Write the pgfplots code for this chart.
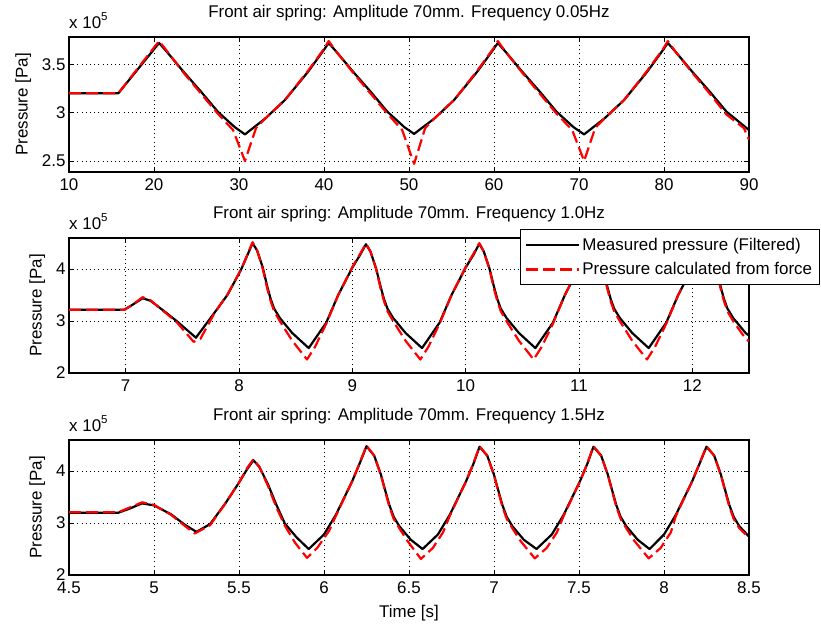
\documentclass[border=0pt]{standalone}
\usepackage{fontspec}
\setmainfont{Liberation Sans}
\usepackage{pgfplots}
\pgfplotsset{compat=1.18}

\newcommand\fs{\fontsize{17}{20}\selectfont}
\newcommand\xscale{x~10\raisebox{7.5bp}{\fontsize{11.5}{12}\selectfont 5}}

\pgfplotsset{
  panel/.style={
    width=680bp, height=135bp, scale only axis, anchor=south west,
    axis line style={line width=1.2bp, black},
    tick align=inside, major tick length=5bp,
    tick style={line width=0.8bp, black},
    grid=major,
    major grid style={black, line width=0.8bp, dash pattern=on 1bp off 3.2bp},
    ticklabel style={font=\fs},
    xticklabel style={yshift=-3bp},
    title style={font=\fs, at={(0.5,1)}, anchor=base, yshift=13.5bp},
    ylabel={Pressure [Pa]}, ylabel style={font=\fs, yshift=4bp},
    xlabel style={font=\fs, yshift=-5bp},
    scaled ticks=false,
    /pgf/number format/assume math mode=true,
    extra description/.code={
      \node[anchor=base west, font=\fs, inner sep=0pt] at (0.0,1.065) {\xscale};
    },
  },
  meas/.style={black, line width=2.2bp, line join=round, no marks},
  calc/.style={red, line width=2.2bp, line join=round, dash pattern=on 12bp off 5bp, no marks},
}

\begin{document}
\begin{tikzpicture}
\path[use as bounding box] (0bp,0bp) rectangle (821bp,626bp);

% ---- 0.05 Hz ----
\begin{axis}[panel, at={(69bp,454bp)},
  xmin=10, xmax=90, ymin=2.386, ymax=3.782,
  xtick={10,20,...,90}, ytick={2.5,3,3.5},
  title={Front air spring: Amplitude 70mm. Frequency 0.05Hz}]
\addplot[meas] coordinates {
(10,3.20)(15.8,3.20)(18.2,3.46)(20.6,3.72)
(21.5,3.63)(23.5,3.42)(25.5,3.22)(27.5,3.01)(29.5,2.85)(30.7,2.775)
(33.1,2.94)(35.4,3.13)(38.1,3.42)(40.0,3.65)(40.55,3.72)
(41.45,3.63)(43.45,3.42)(45.45,3.22)(47.45,3.01)(49.45,2.85)(50.6,2.78)
(53.0,2.94)(55.3,3.13)(58.0,3.42)(59.9,3.65)(60.45,3.72)
(61.35,3.63)(63.35,3.42)(65.35,3.22)(67.35,3.01)(69.35,2.85)(70.6,2.775)
(73.0,2.94)(75.3,3.13)(78.0,3.42)(79.9,3.65)(80.45,3.72)
(81.35,3.63)(83.35,3.42)(85.35,3.22)(87.35,3.01)(90,2.82)
};
\addplot[calc] coordinates {
(10,3.20)(15.8,3.20)(18.2,3.47)(20.6,3.74)
(21.5,3.64)(23.5,3.41)(25.5,3.20)(27.5,2.99)(29.3,2.82)(30.7,2.50)(32.0,2.84)
(33.1,2.94)(35.4,3.13)(38.1,3.43)(40.0,3.66)(40.55,3.74)
(41.45,3.63)(43.45,3.41)(45.45,3.20)(47.45,2.99)(49.2,2.82)(50.6,2.47)(51.9,2.84)
(53.0,2.94)(55.3,3.13)(58.0,3.43)(59.9,3.66)(60.45,3.74)
(61.35,3.63)(63.35,3.41)(65.35,3.20)(67.35,2.99)(69.2,2.82)(70.6,2.50)(71.9,2.84)
(73.0,2.94)(75.3,3.13)(78.0,3.43)(79.9,3.66)(80.45,3.74)
(81.35,3.63)(83.35,3.41)(85.35,3.20)(87.35,2.98)(89.4,2.84)(90,2.72)
};
\end{axis}

% ---- 1.0 Hz ----
\begin{axis}[panel, at={(69bp,253bp)},
  xmin=6.5, xmax=12.5, ymin=2, ymax=4.6,
  xtick={7,8,...,12}, ytick={2,3,4},
  title={Front air spring: Amplitude 70mm. Frequency 1.0Hz},
  legend style={at={(0.663,1.063)}, anchor=north west, draw=black,
    line width=0.8bp, fill=white, font=\fs, inner xsep=5bp, inner ysep=6bp,
    row sep=7bp, cells={anchor=west}},
  legend image code/.code={\draw[#1] (0bp,0bp) -- (53bp,0bp);}]
\addplot[meas] coordinates {
(6.5,3.22)(6.99,3.22)(7.05,3.30)(7.15,3.44)(7.22,3.39)(7.34,3.19)(7.45,3.0)(7.62,2.68)
(7.78,3.15)(7.90,3.51)(8.02,4.0)(8.12,4.50)
(8.16,4.36)(8.21,4.03)(8.25,3.66)(8.28,3.42)(8.31,3.24)(8.36,3.06)(8.47,2.77)(8.615,2.48)
(8.77,2.97)(8.875,3.50)(9.0,4.03)(9.07,4.28)(9.12,4.48)
(9.16,4.34)(9.21,4.01)(9.25,3.66)(9.28,3.42)(9.31,3.24)(9.36,3.06)(9.47,2.77)(9.615,2.48)
(9.77,2.97)(9.875,3.50)(10.0,4.03)(10.07,4.28)(10.12,4.49)
(10.16,4.34)(10.21,4.01)(10.25,3.66)(10.28,3.42)(10.31,3.24)(10.36,3.06)(10.47,2.77)(10.615,2.48)
(10.77,2.97)(10.875,3.50)(11.0,4.03)(11.07,4.28)(11.12,4.48)
(11.16,4.34)(11.21,4.01)(11.25,3.66)(11.28,3.42)(11.31,3.24)(11.36,3.06)(11.47,2.77)(11.615,2.48)
(11.77,2.97)(11.875,3.50)(12.0,4.03)(12.07,4.28)(12.12,4.48)
(12.16,4.34)(12.21,4.01)(12.25,3.66)(12.28,3.42)(12.31,3.24)(12.36,3.06)(12.47,2.77)(12.5,2.72)
};
\addlegendentry{Measured pressure (Filtered)}
\addplot[calc] coordinates {
(6.5,3.22)(6.99,3.22)(7.05,3.30)(7.15,3.46)(7.22,3.40)(7.34,3.18)(7.45,2.98)(7.60,2.60)(7.66,2.66)
(7.78,3.14)(7.90,3.52)(8.02,4.0)(8.12,4.52)
(8.16,4.36)(8.21,4.00)(8.25,3.62)(8.28,3.38)(8.31,3.19)(8.36,3.00)(8.47,2.62)(8.60,2.26)(8.67,2.50)
(8.77,2.95)(8.875,3.50)(9.0,4.04)(9.07,4.30)(9.12,4.49)
(9.16,4.34)(9.21,4.00)(9.25,3.62)(9.28,3.38)(9.31,3.19)(9.36,3.00)(9.47,2.62)(9.60,2.26)(9.67,2.50)
(9.77,2.95)(9.875,3.50)(10.0,4.04)(10.07,4.30)(10.12,4.50)
(10.16,4.34)(10.21,4.00)(10.25,3.62)(10.28,3.38)(10.31,3.19)(10.36,3.00)(10.47,2.62)(10.60,2.26)(10.67,2.50)
(10.77,2.95)(10.875,3.50)(11.0,4.04)(11.07,4.30)(11.12,4.49)
(11.16,4.34)(11.21,4.00)(11.25,3.62)(11.28,3.38)(11.31,3.19)(11.36,3.00)(11.47,2.62)(11.60,2.26)(11.67,2.50)
(11.77,2.95)(11.875,3.50)(12.0,4.04)(12.07,4.30)(12.12,4.49)
(12.16,4.34)(12.21,4.00)(12.25,3.62)(12.28,3.38)(12.31,3.19)(12.36,3.00)(12.47,2.66)(12.5,2.61)
};
\addlegendentry{Pressure calculated from force}
\end{axis}

% ---- 1.5 Hz ----
\begin{axis}[panel, at={(69bp,51bp)},
  xmin=4.5, xmax=8.5, ymin=2, ymax=4.6,
  xtick={4.5,5,...,8.5}, ytick={2,3,4},
  xlabel={Time [s]},
  title={Front air spring: Amplitude 70mm. Frequency 1.5Hz}]
\addplot[meas] coordinates {
(4.5,3.20)(4.79,3.20)(4.85,3.27)(4.93,3.38)(5.0,3.34)(5.1,3.17)(5.18,2.97)(5.25,2.83)
(5.33,2.98)(5.42,3.38)(5.5,3.78)(5.55,4.05)(5.585,4.21)
(5.62,4.08)(5.67,3.75)(5.72,3.35)(5.77,2.99)(5.84,2.72)(5.91,2.50)
(6.0,2.78)(6.07,3.16)(6.165,3.8)(6.21,4.15)(6.25,4.48)
(6.295,4.3)(6.335,3.93)(6.36,3.63)(6.384,3.35)(6.41,3.12)(6.443,2.94)(6.51,2.68)(6.58,2.50)
(6.67,2.78)(6.74,3.16)(6.835,3.8)(6.88,4.15)(6.915,4.47)
(6.96,4.3)(7.0,3.93)(7.025,3.63)(7.049,3.35)(7.075,3.12)(7.108,2.94)(7.175,2.68)(7.25,2.50)
(7.34,2.78)(7.41,3.16)(7.505,3.8)(7.55,4.15)(7.585,4.47)
(7.63,4.3)(7.67,3.93)(7.695,3.63)(7.719,3.35)(7.745,3.12)(7.778,2.94)(7.845,2.68)(7.915,2.50)
(8.0,2.78)(8.07,3.16)(8.165,3.8)(8.21,4.15)(8.25,4.47)
(8.295,4.3)(8.335,3.93)(8.36,3.63)(8.384,3.35)(8.41,3.12)(8.443,2.94)(8.5,2.74)
};
\addplot[calc] coordinates {
(4.5,3.21)(4.79,3.21)(4.85,3.29)(4.93,3.40)(5.0,3.35)(5.1,3.16)(5.18,2.95)(5.24,2.80)
(5.33,2.96)(5.42,3.38)(5.5,3.78)(5.55,4.07)(5.585,4.23)
(5.62,4.08)(5.67,3.72)(5.72,3.30)(5.77,2.95)(5.83,2.62)(5.90,2.33)(5.96,2.52)
(6.03,2.85)(6.07,3.14)(6.165,3.8)(6.21,4.16)(6.25,4.49)
(6.295,4.3)(6.335,3.92)(6.36,3.61)(6.384,3.32)(6.41,3.08)(6.443,2.90)(6.49,2.66)(6.57,2.31)(6.64,2.52)
(6.70,2.82)(6.74,3.14)(6.835,3.8)(6.88,4.16)(6.915,4.48)
(6.96,4.3)(7.0,3.92)(7.025,3.61)(7.049,3.32)(7.075,3.08)(7.108,2.90)(7.155,2.66)(7.24,2.32)(7.31,2.52)
(7.37,2.82)(7.41,3.14)(7.505,3.8)(7.55,4.16)(7.585,4.48)
(7.63,4.3)(7.67,3.92)(7.695,3.61)(7.719,3.32)(7.745,3.08)(7.778,2.90)(7.825,2.66)(7.91,2.32)(7.98,2.52)
(8.04,2.82)(8.07,3.14)(8.165,3.8)(8.21,4.16)(8.25,4.48)
(8.295,4.3)(8.335,3.92)(8.36,3.61)(8.384,3.32)(8.41,3.08)(8.443,2.90)(8.5,2.72)
};
\end{axis}
\end{tikzpicture}
\end{document}
